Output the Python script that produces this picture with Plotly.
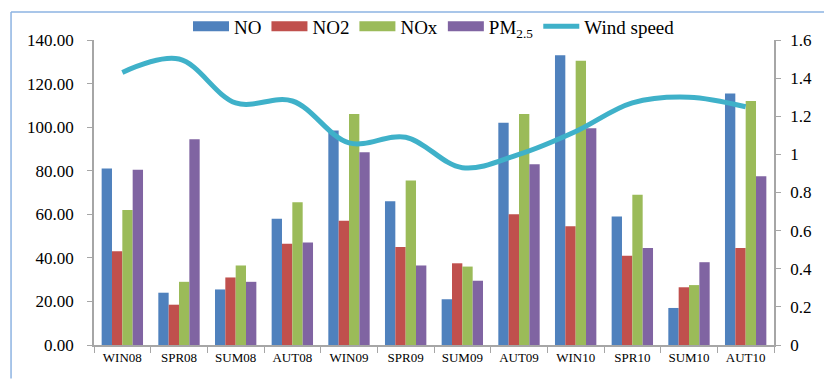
import plotly.graph_objects as go

categories = ["WIN08", "SPR08", "SUM08", "AUT08", "WIN09", "SPR09",
              "SUM09", "AUT09", "WIN10", "SPR10", "SUM10", "AUT10"]
no_vals = [81.0, 24.0, 25.5, 58.0, 98.5, 66.0, 21.0, 102.0, 133.0, 59.0, 17.0, 115.5]
no2_vals = [43.0, 18.5, 31.0, 46.5, 57.0, 45.0, 37.5, 60.0, 54.5, 41.0, 26.5, 44.5]
nox_vals = [62.0, 29.0, 36.5, 65.5, 106.0, 75.5, 36.0, 106.0, 130.5, 69.0, 27.5, 112.0]
pm25_vals = [80.5, 94.5, 29.0, 47.0, 88.5, 36.5, 29.5, 83.0, 99.5, 44.5, 38.0, 77.5]
wind_vals = [1.43, 1.50, 1.27, 1.28, 1.06, 1.09, 0.93, 1.00, 1.12, 1.27, 1.30, 1.25]
left_ticks = [0, 20, 40, 60, 80, 100, 120, 140]
right_ticks = [0, 0.2, 0.4, 0.6, 0.8, 1.0, 1.2, 1.4, 1.6]
right_tick_text = ["0", "0.2", "0.4", "0.6", "0.8", "1", "1.2", "1.4", "1.6"]

names = ["NO", "NO2", "NOx", "PM<sub>2.5</sub>"]
colors = ["#4f81bd", "#c0504d", "#9bbb59", "#8064a2"]
series = [no_vals, no2_vals, nox_vals, pm25_vals]
wind_color = "#3fb1c9"
FONT = "Liberation Serif"

fig = go.Figure()
for name, col, vals in zip(names, colors, series):
    fig.add_trace(go.Bar(x=categories, y=vals, name=name, marker_color=col,
                         marker_line_width=0, showlegend=False, yaxis="y"))
# legend-only entries mimicking wide rectangular swatches
for name, col in zip(names, colors):
    fig.add_trace(go.Scatter(x=[None], y=[None], mode="lines", name=name,
                             line=dict(color=col, width=11), yaxis="y"))
fig.add_trace(go.Scatter(x=categories, y=wind_vals, name="Wind speed", mode="lines",
                         line=dict(color=wind_color, width=5, shape="spline", smoothing=1.0),
                         yaxis="y2"))

axis_col = "#a6a6a6"
fig.update_layout(
    width=824, height=379,
    margin=dict(l=94, r=50, t=40, b=34, autoexpand=False),
    paper_bgcolor="white", plot_bgcolor="white",
    font=dict(family=FONT, color="black"),
    barmode="group", bargap=0.27, bargroupgap=0,
    showlegend=True,
    legend=dict(orientation="h", x=0.5, xanchor="center", y=1.045, yanchor="middle",
                font=dict(size=19, family=FONT), itemwidth=36, tracegroupgap=0,
                bgcolor="rgba(0,0,0,0)"),
    xaxis=dict(type="category", showline=True, linecolor=axis_col, linewidth=1.5,
               ticks="outside", tickson="boundaries", ticklen=6, tickcolor=axis_col,
               tickfont=dict(size=13, family=FONT), showgrid=False, zeroline=False),
    yaxis=dict(range=[0, 140], tickvals=left_ticks, tickformat=".2f",
               showline=True, linecolor=axis_col, linewidth=1.5,
               ticks="outside", ticklen=5, tickcolor=axis_col, ticklabelstandoff=10,
               tickfont=dict(size=17, family=FONT), showgrid=False, zeroline=False),
    yaxis2=dict(range=[0, 1.6], tickvals=right_ticks, ticktext=right_tick_text,
                overlaying="y", side="right",
                showline=True, linecolor=axis_col, linewidth=1.5,
                ticks="outside", ticklen=5, tickcolor=axis_col, ticklabelstandoff=6,
                tickfont=dict(size=17, family=FONT), showgrid=False, zeroline=False),
    shapes=[
        dict(type="line", xref="paper", yref="paper", x0=-0.122, x1=1.08, y0=1.092, y1=1.092,
             line=dict(color="#8db3e2", width=1.5)),
        dict(type="line", xref="paper", yref="paper", x0=-0.122, x1=-0.122, y0=-0.11, y1=1.092,
             line=dict(color="#8db3e2", width=1.5)),
    ],
)

fig.write_html("out.html", config={"displayModeBar": False},
               post_script="document.body.style.margin='0';document.body.style.overflow='hidden';")
